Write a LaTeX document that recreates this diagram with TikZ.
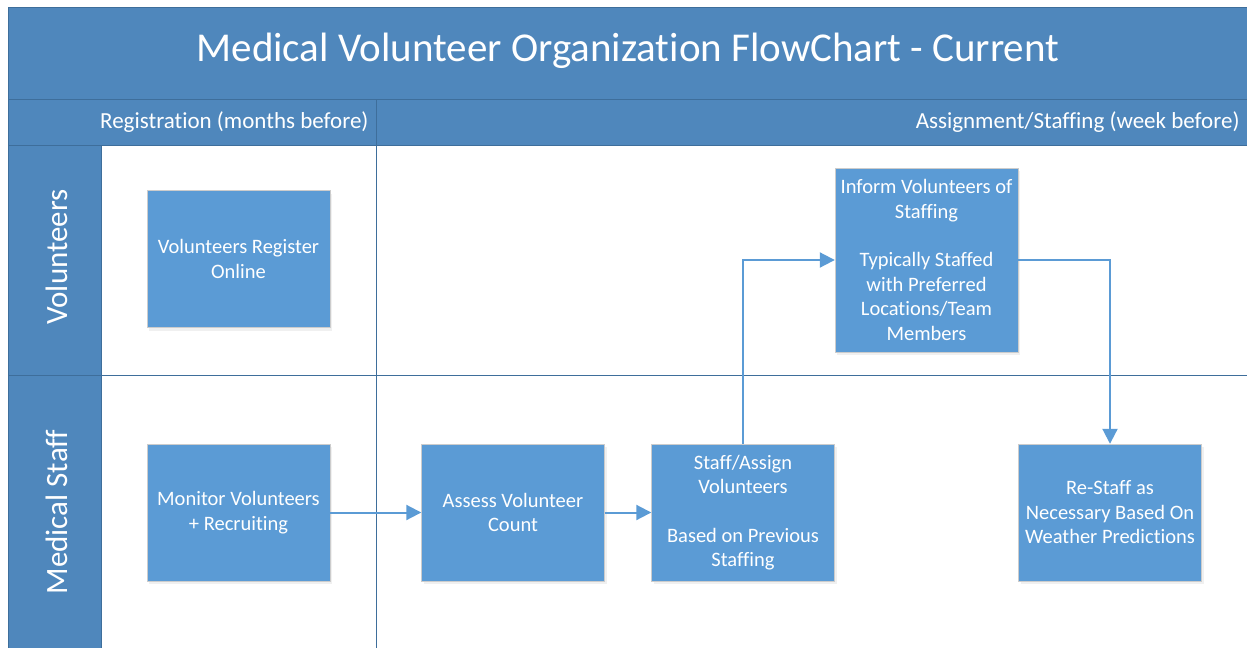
\documentclass[tikz,border=0pt]{standalone}
\usepackage{fontspec}
\setmainfont{Carlito}[Ligatures=NoCommon]
\usetikzlibrary{arrows.meta,shadows}

\definecolor{bandblue}{RGB}{79,135,188}
\definecolor{boxblue}{RGB}{91,155,213}
\definecolor{lineblue}{RGB}{62,110,155}

\tikzset{
  box/.style = {draw=gray!40, fill=boxblue, text=white, align=center,
    minimum width=183pt, minimum height=137pt, inner sep=2pt,
    font=\fontsize{20.5}{24.5}\selectfont,
    drop shadow={opacity=0.12, shadow xshift=2pt, shadow yshift=-3pt}},
  flow/.style = {boxblue, line width=2pt, -{Triangle[length=15pt, width=15pt]}},
  lanetext/.style = {text=white, font=\fontsize{31}{34}\selectfont, rotate=90},
  headtext/.style = {text=white, font=\fontsize{23}{26}\selectfont, anchor=east}
}

\begin{document}
\begin{tikzpicture}[x=1pt, y=-1pt]
		\def\mylinewidth{0.8pt}
		\useasboundingbox (0,0) rectangle (1247,648);
		%--------------------

		\fill[bandblue] (8,7) rectangle (1247,145);
		\fill[bandblue] (8,145) rectangle (101,648);

		\draw[lineblue, line width = \mylinewidth] (8,7) -- (8,648);
		\draw[lineblue, line width = \mylinewidth] (8,7) -- (1247,7);
		\draw[lineblue, line width = \mylinewidth] (8,99) -- (1247,99);
		\draw[lineblue, line width = \mylinewidth] (8,145) -- (1247,145);
		\draw[lineblue, line width = \mylinewidth] (8,375) -- (1247,375);
		\draw[lineblue, line width = \mylinewidth] (101,145) -- (101,648);
		\draw[lineblue, line width = \mylinewidth] (376,99) -- (376,648);

		\node[text=white, font=\fontsize{41}{44}\selectfont] (title) at (628,51) {Medical Volunteer Organization FlowChart - Current};
		\node[headtext] (regHead) at (372,122) {Registration (months before)};
		\node[headtext] (assignHead) at (1243,122) {Assignment/Staffing (week before)};

		\node[lanetext] (volLane) at (57,257) {Volunteers};
		\node[lanetext] (medLane) at (57,512) {Medical Staff};

		%--------------------
		\node[box] (register) at (238.5,259) {Volunteers Register\\Online};
		\node[box] (monitor) at (238.5,512.5) {Monitor Volunteers\\+ Recruiting};
		\node[box] (assess) at (513,512.5) {Assess Volunteer\\Count};
		\node[box] (staff) at (743,512.5) {Staff/Assign\\Volunteers\\[24pt]Based on Previous\\Staffing};
		\node[box, minimum height=184pt] (inform) at (926.5,260) {Inform Volunteers of\\Staffing\\[24pt]Typically Staffed\\with Preferred\\Locations/Team\\Members};
		\node[box] (restaff) at (1110,512.5) {Re-Staff as\\Necessary Based On\\Weather Predictions};

		%--------------------
		\draw[flow] (monitor) -- (assess);
		\draw[flow] (assess) -- (staff);
		\draw[flow] (staff.north) |- (inform.west);
		\draw[flow] (inform.east) -| (restaff.north);
    \end{tikzpicture}
\end{document}
